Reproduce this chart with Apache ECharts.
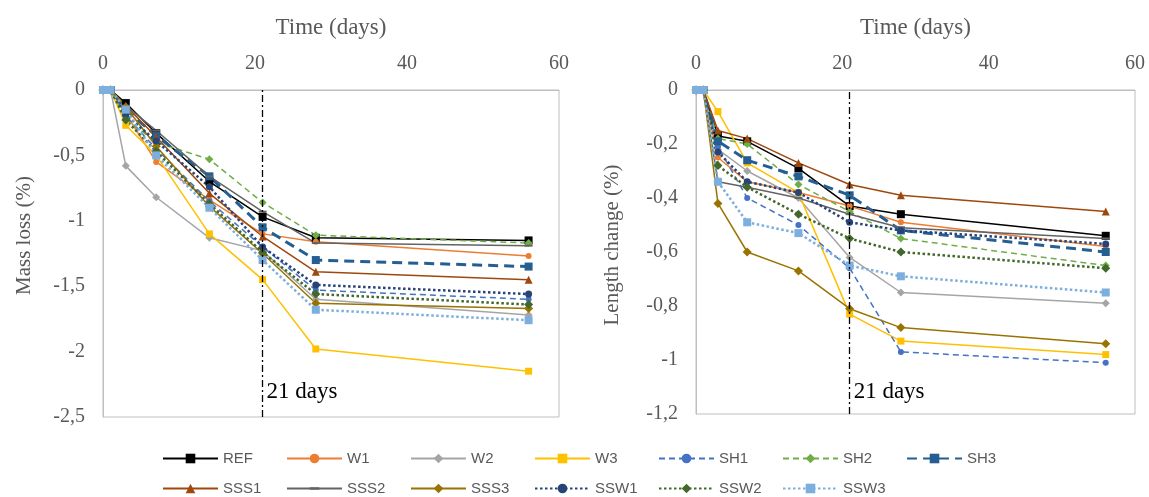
<!DOCTYPE html>
<html>
<head>
<meta charset="utf-8">
<script src="https://cdn.jsdelivr.net/npm/echarts@6/dist/echarts.min.js"></script>
<style>
html,body{margin:0;padding:0;background:#fff;}
#chart{width:1149px;height:497px;}
</style>
</head>
<body>
<div id="chart"></div>
<script>
// ---------- data ----------
const days = [0, 1, 3, 7, 14, 21, 28, 56];
const seriesNames = ['REF','W1','W2','W3','SH1','SH2','SH3','SSS1','SSS2','SSS3','SSW1','SSW2','SSW3'];
const legendRow1 = ['REF','W1','W2','W3','SH1','SH2','SH3'];
const legendRow2 = ['SSS1','SSS2','SSS3','SSW1','SSW2','SSW3'];
const xTicks = [0, 20, 40, 60];
const massTicks = [0, -0.5, -1, -1.5, -2, -2.5];
const lengthTicks = [0, -0.2, -0.4, -0.6, -0.8, -1, -1.2];

// Mass loss (%)
const massREF  = [0, 0, -0.10, -0.33, -0.70, -0.97, -1.13, -1.15];
const massW1   = [0, 0, -0.18, -0.55, -0.84, -1.10, -1.16, -1.27];
const massW2   = [0, 0, -0.58, -0.82, -1.13, -1.23, -1.60, -1.72];
const massW3   = [0, 0, -0.27, -0.50, -1.10, -1.45, -1.98, -2.15];
const massSH1  = [0, 0, -0.20, -0.45, -0.85, -1.20, -1.53, -1.60];
const massSH2  = [0, 0, -0.22, -0.40, -0.53, -0.86, -1.11, -1.17];
const massSH3  = [0, 0, -0.15, -0.35, -0.66, -1.05, -1.30, -1.35];
const massSSS1 = [0, 0, -0.12, -0.36, -0.79, -1.12, -1.39, -1.45];
const massSSS2 = [0, 0, -0.12, -0.31, -0.66, -0.93, -1.17, -1.19];
const massSSS3 = [0, 0, -0.13, -0.43, -0.89, -1.25, -1.63, -1.67];
const massSSW1 = [0, 0, -0.19, -0.39, -0.74, -1.20, -1.49, -1.56];
const massSSW2 = [0, 0, -0.23, -0.47, -0.87, -1.24, -1.56, -1.64];
const massSSW3 = [0, 0, -0.15, -0.50, -0.90, -1.30, -1.68, -1.76];

// Length change (%)
const lenREF  = [0, 0, -0.17, -0.19, -0.29, -0.43, -0.46, -0.54];
const lenW1   = [0, 0, -0.25, -0.34, -0.38, -0.43, -0.49, -0.58];
const lenW2   = [0, 0, -0.22, -0.30, -0.40, -0.62, -0.75, -0.79];
const lenW3   = [0, 0, -0.08, -0.27, -0.38, -0.83, -0.93, -0.98];
const lenSH1  = [0, 0, -0.21, -0.40, -0.50, -0.66, -0.97, -1.01];
const lenSH2  = [0, 0, -0.18, -0.20, -0.35, -0.45, -0.55, -0.65];
const lenSH3  = [0, 0, -0.19, -0.26, -0.32, -0.39, -0.52, -0.60];
const lenSSS1 = [0, 0, -0.15, -0.18, -0.27, -0.35, -0.39, -0.45];
const lenSSS2 = [0, 0, -0.34, -0.36, -0.40, -0.46, -0.51, -0.55];
const lenSSS3 = [0, 0, -0.42, -0.60, -0.67, -0.81, -0.88, -0.94];
const lenSSW1 = [0, 0, -0.23, -0.34, -0.38, -0.49, -0.52, -0.57];
const lenSSW2 = [0, 0, -0.28, -0.36, -0.46, -0.55, -0.60, -0.66];
const lenSSW3 = [0, 0, -0.34, -0.49, -0.53, -0.65, -0.69, -0.75];

const markerDay = 21;
const markerLabel = '21 days';
const massLabelY = -2.31;
const lengthLabelY = -1.12;

const massData = {REF:massREF,W1:massW1,W2:massW2,W3:massW3,SH1:massSH1,SH2:massSH2,SH3:massSH3,
  SSS1:massSSS1,SSS2:massSSS2,SSS3:massSSS3,SSW1:massSSW1,SSW2:massSSW2,SSW3:massSSW3};
const lenData = {REF:lenREF,W1:lenW1,W2:lenW2,W3:lenW3,SH1:lenSH1,SH2:lenSH2,SH3:lenSH3,
  SSS1:lenSSS1,SSS2:lenSSS2,SSS3:lenSSS3,SSW1:lenSSW1,SSW2:lenSSW2,SSW3:lenSSW3};

// ---------- styles ----------
// thin horizontal dash inside a square bounding box (so it stays a dash in the legend too)
const dashSymbol = 'path://M0,0 L0,0 M0,10 L0,10 M0,3.75 L10,3.75 L10,6.25 L0,6.25 Z';
const styles = {
  REF:  {color:'#000000', symbol:'rect',     size:8,  type:'solid',  width:1.5},
  W1:   {color:'#ED7D31', symbol:'circle',   size:6,  type:'solid',  width:1.5},
  W2:   {color:'#A5A5A5', symbol:'diamond',  size:8,  type:'solid',  width:1.5},
  W3:   {color:'#FFC000', symbol:'rect',     size:7,  type:'solid',  width:1.5},
  SH1:  {color:'#4472C4', symbol:'circle',   size:6,  type:[6,4],    width:1.5},
  SH2:  {color:'#70AD47', symbol:'diamond',  size:8,  type:[6,4],    width:1.5},
  SH3:  {color:'#255E91', symbol:'rect',     size:8,  type:[10,6],   width:3},
  SSS1: {color:'#9E480E', symbol:'triangle', size:8,  type:'solid',  width:1.5},
  SSS2: {color:'#636363', symbol:dashSymbol, size:8,  type:'solid',  width:1.5},
  SSS3: {color:'#997300', symbol:'diamond',  size:9,  type:'solid',  width:1.5},
  SSW1: {color:'#264478', symbol:'circle',   size:7,  type:[2.5,2.5],width:2.5},
  SSW2: {color:'#43682B', symbol:'diamond',  size:9,  type:[2.5,2.5],width:2.5},
  SSW3: {color:'#7CAFDD', symbol:'rect',     size:8,  type:[2.5,2.5],width:2.5}
};

const serif = 'Liberation Serif, Times New Roman, serif';
const sans = 'Liberation Sans, Arial, sans-serif';
const axisGray = '#595959';
const fmt = v => String(Math.round(v * 10) / 10).replace('.', ',');

function makeSeries(dataMap, gi, labelY) {
  return seriesNames.map((name, k) => {
    const s = styles[name];
    const ser = {
      name: name,
      type: 'line',
      xAxisIndex: gi,
      yAxisIndex: gi,
      data: days.map((d, i) => [d, dataMap[name][i]]),
      symbol: s.symbol,
      symbolSize: s.size,
      showSymbol: true,
      color: s.color,
      itemStyle: {color: s.color},
      lineStyle: {color: s.color, width: s.width, type: s.type},
      emphasis: {disabled: true},
      animation: false
    };
    if (k === 0) {
      ser.markLine = {
        silent: true,
        symbol: 'none',
        label: {show: false},
        lineStyle: {color: '#000', width: 1.3, type: [7, 3, 2, 3]},
        data: [{xAxis: markerDay}]
      };
      ser.markPoint = {
        silent: true,
        symbol: 'circle',
        symbolSize: 0,
        itemStyle: {color: 'transparent'},
        label: {show: true, position: 'right', distance: 4, formatter: markerLabel,
                color: '#000', fontFamily: serif, fontSize: 23},
        data: [{coord: [markerDay, labelY]}]
      };
    }
    return ser;
  });
}

function xAxis(gi) {
  return {
    gridIndex: gi, type: 'value', position: 'top', min: xTicks[0], max: xTicks[xTicks.length-1],
    interval: xTicks[1] - xTicks[0],
    name: 'Time (days)', nameLocation: 'middle', nameGap: 51,
    nameTextStyle: {color: axisGray, fontFamily: serif, fontSize: 23},
    axisLine: {show: true, lineStyle: {color: '#BFBFBF'}},
    axisTick: {show: false},
    splitLine: {show: false},
    axisLabel: {color: axisGray, fontFamily: serif, fontSize: 20, margin: 16}
  };
}
function yAxis(gi, ticks, name, gap, pad) {
  return {
    gridIndex: gi, type: 'value', min: ticks[ticks.length-1], max: ticks[0],
    interval: Math.abs(ticks[1] - ticks[0]),
    name: name, nameLocation: 'middle', nameGap: gap,
    nameTextStyle: {color: axisGray, fontFamily: serif, fontSize: 21, padding: [0,0,0,pad]},
    axisLine: {show: true, lineStyle: {color: '#BFBFBF'}},
    axisTick: {show: false},
    splitLine: {show: false},
    axisLabel: {color: axisGray, fontFamily: serif, fontSize: 20, margin: 18, formatter: fmt}
  };
}
// one legend component per entry so the columns line up like a grid
const legendLeft = 162, legendPitch = 124, legendTops = [451, 481];
function legends() {
  const out = [];
  [legendRow1, legendRow2].forEach((row, r) => {
    row.forEach((name, c) => {
      out.push({
        data: [name], left: legendLeft + c * legendPitch, top: legendTops[r],
        orient: 'horizontal', padding: 0,
        itemWidth: 55, itemHeight: 12, itemGap: 0,
        selectedMode: false,
        textStyle: {color: axisGray, fontFamily: sans, fontSize: 15}
      });
    });
  });
  return out;
}

const option = {
  backgroundColor: '#fff',
  animation: false,
  grid: [
    {left: 103, top: 90, width: 456, height: 327, show: true, borderColor: '#BFBFBF', borderWidth: 1, backgroundColor: 'transparent'},
    {left: 696, top: 90, width: 439, height: 324, show: true, borderColor: '#BFBFBF', borderWidth: 1, backgroundColor: 'transparent'}
  ],
  xAxis: [xAxis(0), xAxis(1)],
  yAxis: [yAxis(0, massTicks, 'Mass loss (%)', 68, 36), yAxis(1, lengthTicks, 'Length change (%)', 73, 14)],
  legend: legends(),
  series: makeSeries(massData, 0, massLabelY).concat(makeSeries(lenData, 1, lengthLabelY))
};

const chart = echarts.init(document.getElementById('chart'), null, {renderer: 'canvas'});
chart.setOption(option);
</script>
</body>
</html>
